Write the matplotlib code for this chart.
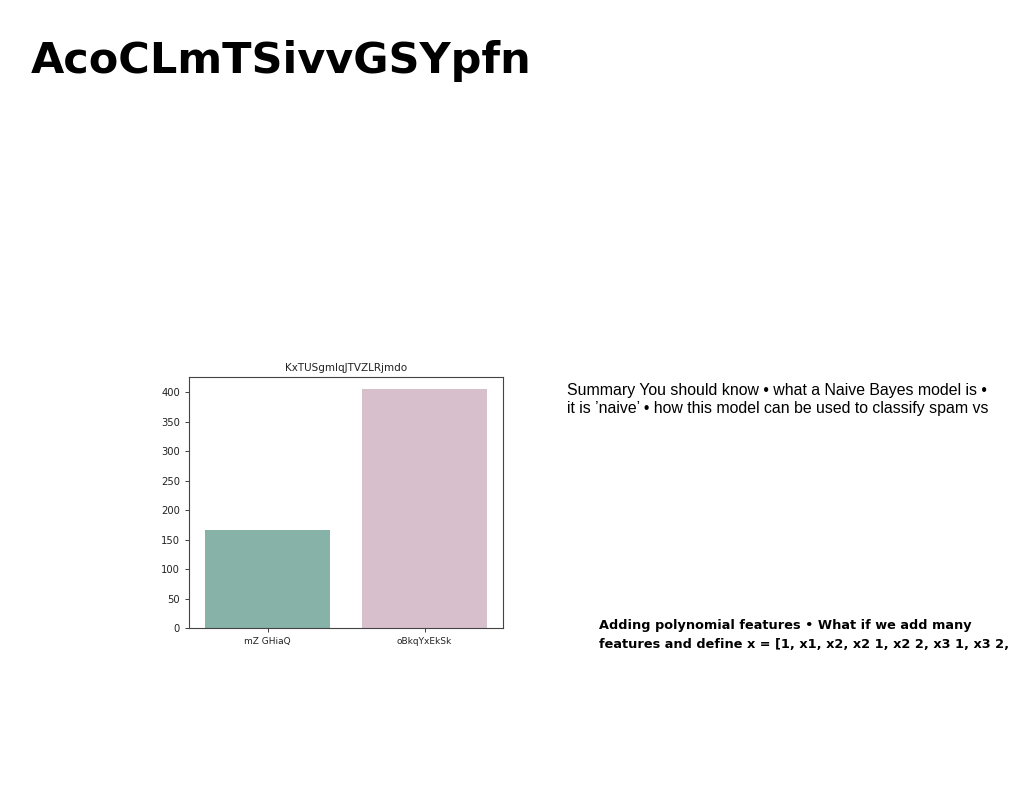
import matplotlib
matplotlib.use("Agg")
import matplotlib.pyplot as plt

W, H = 1024, 788

# data
categories = ["mZ GHiaQ", "oBkqYxEkSk"]
counts = [166, 406]
bar_colors = ["#87b2a7", "#d8bfcc"]
chart_title = "KxTUSgmIqJTVZLRjmdo"
slide_title = "AcoCLmTSivvGSYpfn"
summary_text = ("Summary You should know \u2022 what a Naive Bayes model is \u2022\n"
                "it is \u2019naive\u2019 \u2022 how this model can be used to classify spam vs")
poly_text = ("Adding polynomial features \u2022 What if we add many\n"
             "features and define x = [1, x1, x2, x2 1, x2 2, x3 1, x3 2,")

fig = plt.figure(figsize=(W / 100, H / 100), dpi=100)
fig.patch.set_facecolor("white")

def px(x0, y0, x1, y1):
    # pixel box -> figure fraction
    return [x0 / W, 1 - y1 / H, (x1 - x0) / W, (y1 - y0) / H]

ax = fig.add_axes(px(189, 377, 503, 628))
ax.bar(categories, counts, color=bar_colors, width=0.8)
ax.set_xlim(-0.5, 1.5)
ax.set_ylim(0, max(counts) * 1.05)
ax.set_yticks(range(0, 401, 50))
ax.set_title(chart_title, fontsize=7.5, color="#222222", pad=4)
ax.tick_params(colors="#222222", length=3, width=0.6)
ax.tick_params(axis="x", labelsize=6.5)
ax.tick_params(axis="y", labelsize=7.2)
for s in ax.spines.values():
    s.set_linewidth(0.8)
    s.set_color("#444444")

fig.text(31 / W, 1 - 61 / H, slide_title, fontsize=31, fontweight="bold",
         family=["DejaVu Sans"], va="center", ha="left")

fig.text(567 / W, 1 - 399.5 / H, summary_text, fontsize=11.45,
         family=["Liberation Sans", "DejaVu Sans"], va="center", ha="left",
         linespacing=1.2)

fig.text(599 / W, 1 - 635 / H, poly_text, fontsize=9.3, fontweight="bold",
         family=["DejaVu Sans"], va="center", ha="left",
         linespacing=1.5)

fig.savefig("out.png", dpi=100)
